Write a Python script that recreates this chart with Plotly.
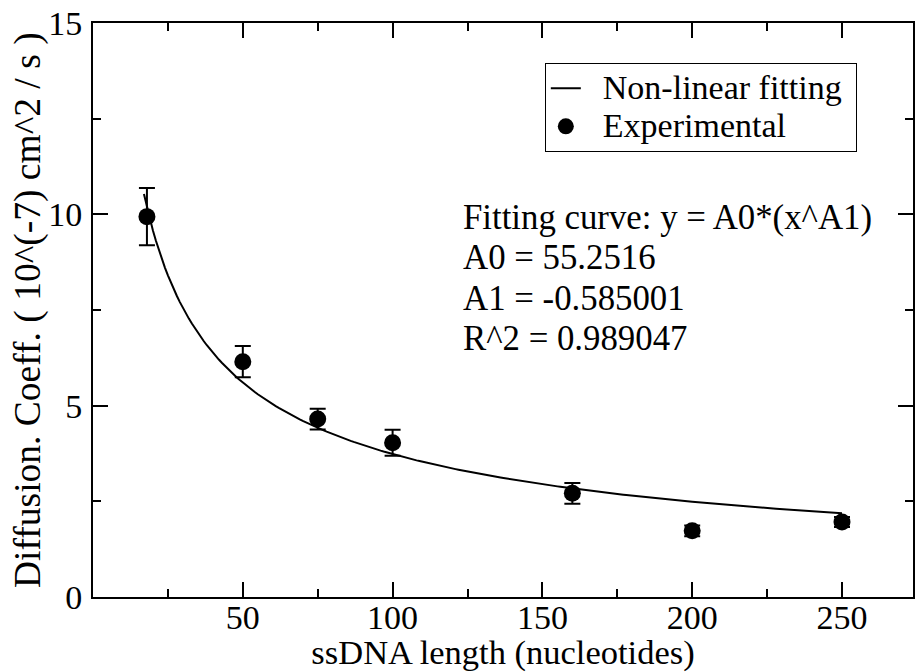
import plotly.graph_objects as go

lengths = [18, 50, 75, 100, 160, 200, 250]
diff_coeff = [9.94, 6.15, 4.65, 4.03, 2.71, 1.73, 1.96]
diff_err = [0.75, 0.41, 0.27, 0.34, 0.27, 0.14, 0.13]

# Fit parameters shown in the chart
A0 = 55.2516
A1 = -0.585001
R2 = 0.989047
fit_x = [17 + i for i in range(0, 234)]
fit_y = [A0 * (x ** A1) for x in fit_x]

x_tick_vals = [50, 100, 150, 200, 250]
y_tick_vals = [0, 5, 10, 15]

fit_lines = [
    "Fitting curve: y = A0*(x^A1)",
    "A0 = %s" % A0,
    "A1 = %s" % A1,
    "R^2 = %s" % R2,
]

x_title = "ssDNA length (nucleotides)"
y_title = "Diffusion. Coeff. ( 10^(-7) cm^2 / s )"

FONT = "Liberation Serif, Times New Roman, serif"
NB = "\u00a0"


def big(s, trail=0):
    return ('<span style="font-size:34px">' + NB * 2 + s + NB * trail
            + '</span>')


fig = go.Figure()
fig.add_trace(go.Scatter(
    x=fit_x, y=fit_y, mode="lines", name=big("Non-linear fitting", 1),
    line=dict(color="black", width=2),
))
fig.add_trace(go.Scatter(
    x=lengths, y=diff_coeff, mode="markers", name=big("Experimental"),
    marker=dict(color="black", size=17, symbol="circle"),
    error_y=dict(type="data", array=diff_err, visible=True,
                 color="black", thickness=2, width=8),
))

axis_common = dict(
    showline=True, linecolor="black", linewidth=2, mirror="ticks",
    ticks="inside", ticklen=15, tickwidth=1.5, tickcolor="black",
    showgrid=False, zeroline=False, ticklabeloverflow="allow",
    tickfont=dict(family=FONT, size=34, color="black"),
)

fig.update_xaxes(
    range=[0, 273.7], tickvals=x_tick_vals,
    minor=dict(ticks="inside", ticklen=8, tickwidth=1.5, tickcolor="black",
               tick0=0, dtick=25, showgrid=False),
    title=dict(text=x_title,
               font=dict(family=FONT, size=34.5, color="black"), standoff=13),
    ticklabelstandoff=-11,
    **axis_common,
)
fig.update_yaxes(
    range=[0, 15], tickvals=y_tick_vals,
    minor=dict(ticks="inside", ticklen=8, tickwidth=1.5, tickcolor="black",
               tick0=0, dtick=2.5, showgrid=False),
    ticklabelstandoff=2,
    **axis_common,
)

# y-axis title placed as rotated text for exact horizontal placement
fig.add_annotation(
    xref="paper", yref="paper", x=-0.0793, y=0.5,
    xanchor="center", yanchor="middle", textangle=-90, showarrow=False,
    text=y_title, font=dict(family=FONT, size=37.5, color="black"),
)

for i, line in enumerate(fit_lines):
    fig.add_annotation(
        xref="paper", yref="paper", x=0.449, y=0.6994 - i * 0.0708,
        xanchor="left", yanchor="top", align="left", showarrow=False,
        text=line, font=dict(family=FONT, size=34.8, color="black"),
    )

fig.update_layout(
    width=916, height=672,
    margin=dict(l=93, r=3, t=23, b=75, autoexpand=False),
    paper_bgcolor="white", plot_bgcolor="white",
    font=dict(family=FONT, size=34, color="black"),
    showlegend=True,
    legend=dict(
        x=0.551, y=0.93, xanchor="left", yanchor="top",
        bgcolor="white", bordercolor="black", borderwidth=1,
        font=dict(family=FONT, size=27, color="black"),
        tracegroupgap=0, itemwidth=30,
    ),
)

fig.write_html(
    "out.html",
    config={"displayModeBar": False},
    post_script="document.body.style.margin='0';"
                "document.body.style.overflow='hidden';",
)
